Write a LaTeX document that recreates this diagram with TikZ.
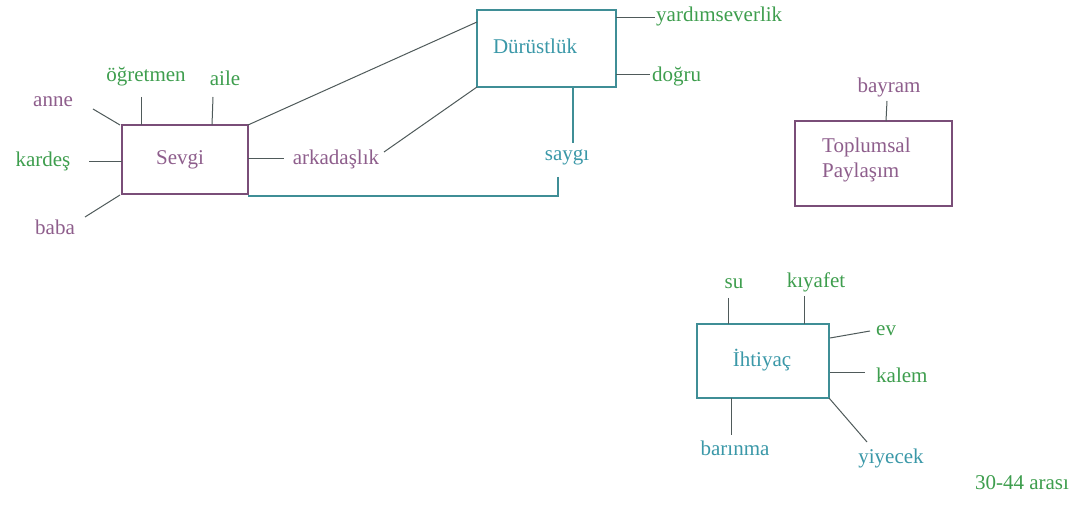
\documentclass[tikz,border=0pt]{standalone}
\usepackage{fontspec}
\setmainfont{Liberation Serif}
\definecolor{plum}{HTML}{8E5E8C}
\definecolor{leaf}{HTML}{3E9E4E}
\definecolor{teal2}{HTML}{3A98A8}
\definecolor{boxpurple}{HTML}{7A4E78}
\definecolor{boxteal}{HTML}{3F8E96}
\definecolor{wire}{HTML}{4F5A5A}
\begin{document}
\begin{tikzpicture}[x=1pt,y=-1pt,
  lbl/.style={inner sep=0pt,font=\fontsize{21}{23}\selectfont},
  pl/.style={lbl,text=plum},
  gr/.style={lbl,text=leaf},
  tl/.style={lbl,text=teal2},
  wirel/.style={draw=wire,line width=1pt},
  grl/.style={draw=boxteal,line width=1.1pt},
  pbox/.style={draw=boxpurple,line width=1.3pt},
  tbox/.style={draw=boxteal,line width=1.3pt}]
\useasboundingbox[fill=white] (0,0) rectangle (1082,510);
% boxes
\draw[pbox] (122,125) rectangle (248,194);
\coordinate (sTL) at (122,125); \coordinate (sTR) at (248,125);
\coordinate (sBL) at (122,194); \coordinate (sBR) at (248,196);
\node[pl] (sevgi) at (180,160) {Sevgi};
\draw[tbox] (477,10) rectangle (616,87);
\node[tl] (durust) at (535,46) {Dürüstlük};
\draw[pbox] (795,121) rectangle (952,206);
\node[pl,anchor=west] (topl1) at (822,147) {Toplumsal};
\node[pl,anchor=west] (topl2) at (822,172) {Paylaşım};
\draw[tbox] (697,324) rectangle (829,398);
\node[tl] (ihti) at (762,360) {İhtiyaç};
% Sevgi labels
\node[pl] (anne) at (53,102) {anne};
\node[gr] (ogret) at (146,77) {öğretmen};
\node[gr] (aile) at (225,78) {aile};
\node[gr] (kardes) at (43,161) {kardeş};
\node[pl] (baba) at (55,227) {baba};
\node[pl] (arkad) at (336,159) {arkadaşlık};
\coordinate (a1) at (93,109); \coordinate (a2) at (120,125);
\draw[wirel] (a1) -- (a2);
\coordinate (o1) at (141,97); \coordinate (o2) at (141,125);
\draw[wirel] (o1) -- (o2);
\coordinate (i1) at (213,97); \coordinate (i2) at (212,125);
\draw[wirel] (i1) -- (i2);
\coordinate (k1) at (89,162); \coordinate (k2) at (122,162);
\draw[wirel] (k1) -- (k2);
\coordinate (b1) at (85,217); \coordinate (b2) at (120,195);
\draw[wirel] (b1) -- (b2);
\coordinate (r1) at (248,159); \coordinate (r2) at (284,159);
\draw[wirel] (r1) -- (r2);
% Sevgi - Dürüstlük
\coordinate (d1) at (477,22); \coordinate (d2) at (477,87);
\draw[wirel] (sTR) -- (d1);
\coordinate (r3) at (384,152);
\draw[wirel] (r3) -- (d2);
% saygı
\node[tl] (saygi) at (567,157) {saygı};
\coordinate (y1) at (573,87); \coordinate (y2) at (573,143);
\draw[grl] (y1) -- (y2);
\coordinate (y3) at (558,177); \coordinate (y4) at (558,196);
\draw[grl] (y3) -- (y4) -- (sBR);
% Dürüstlük right
\node[gr,anchor=west] (yard) at (656,16) {yardımseverlik};
\node[gr,anchor=west] (dogru) at (652,76) {doğru};
\coordinate (e1) at (616,18); \coordinate (e2) at (655,18);
\draw[wirel] (e1) -- (e2);
\coordinate (f1) at (616,75); \coordinate (f2) at (650,75);
\draw[wirel] (f1) -- (f2);
% Toplumsal
\node[pl] (bayram) at (889,87) {bayram};
\coordinate (t1) at (887,101); \coordinate (t2) at (886,121);
\draw[wirel] (t1) -- (t2);
% İhtiyaç
\node[gr] (su) at (734,284) {su};
\node[gr] (kiyafet) at (816,282) {kıyafet};
\node[gr,anchor=west] (ev) at (876,331) {ev};
\node[gr,anchor=west] (kalem) at (876,375) {kalem};
\node[tl] (barinma) at (735,448) {barınma};
\node[tl] (yiyecek) at (891,458) {yiyecek};
\coordinate (u1) at (728,298); \coordinate (u2) at (728,324);
\draw[wirel] (u1) -- (u2);
\coordinate (v1) at (804,296); \coordinate (v2) at (804,324);
\draw[wirel] (v1) -- (v2);
\coordinate (w1) at (830,338); \coordinate (w2) at (870,331);
\draw[wirel] (w1) -- (w2);
\coordinate (x1) at (830,373); \coordinate (x2) at (865,373);
\draw[wirel] (x1) -- (x2);
\coordinate (z1) at (731,398); \coordinate (z2) at (731,435);
\draw[wirel] (z1) -- (z2);
\coordinate (q1) at (829,398); \coordinate (q2) at (867,442);
\draw[wirel] (q1) -- (q2);
\node[gr] (arasi) at (1022,483) {30-44 arası};
\end{tikzpicture}
\end{document}
